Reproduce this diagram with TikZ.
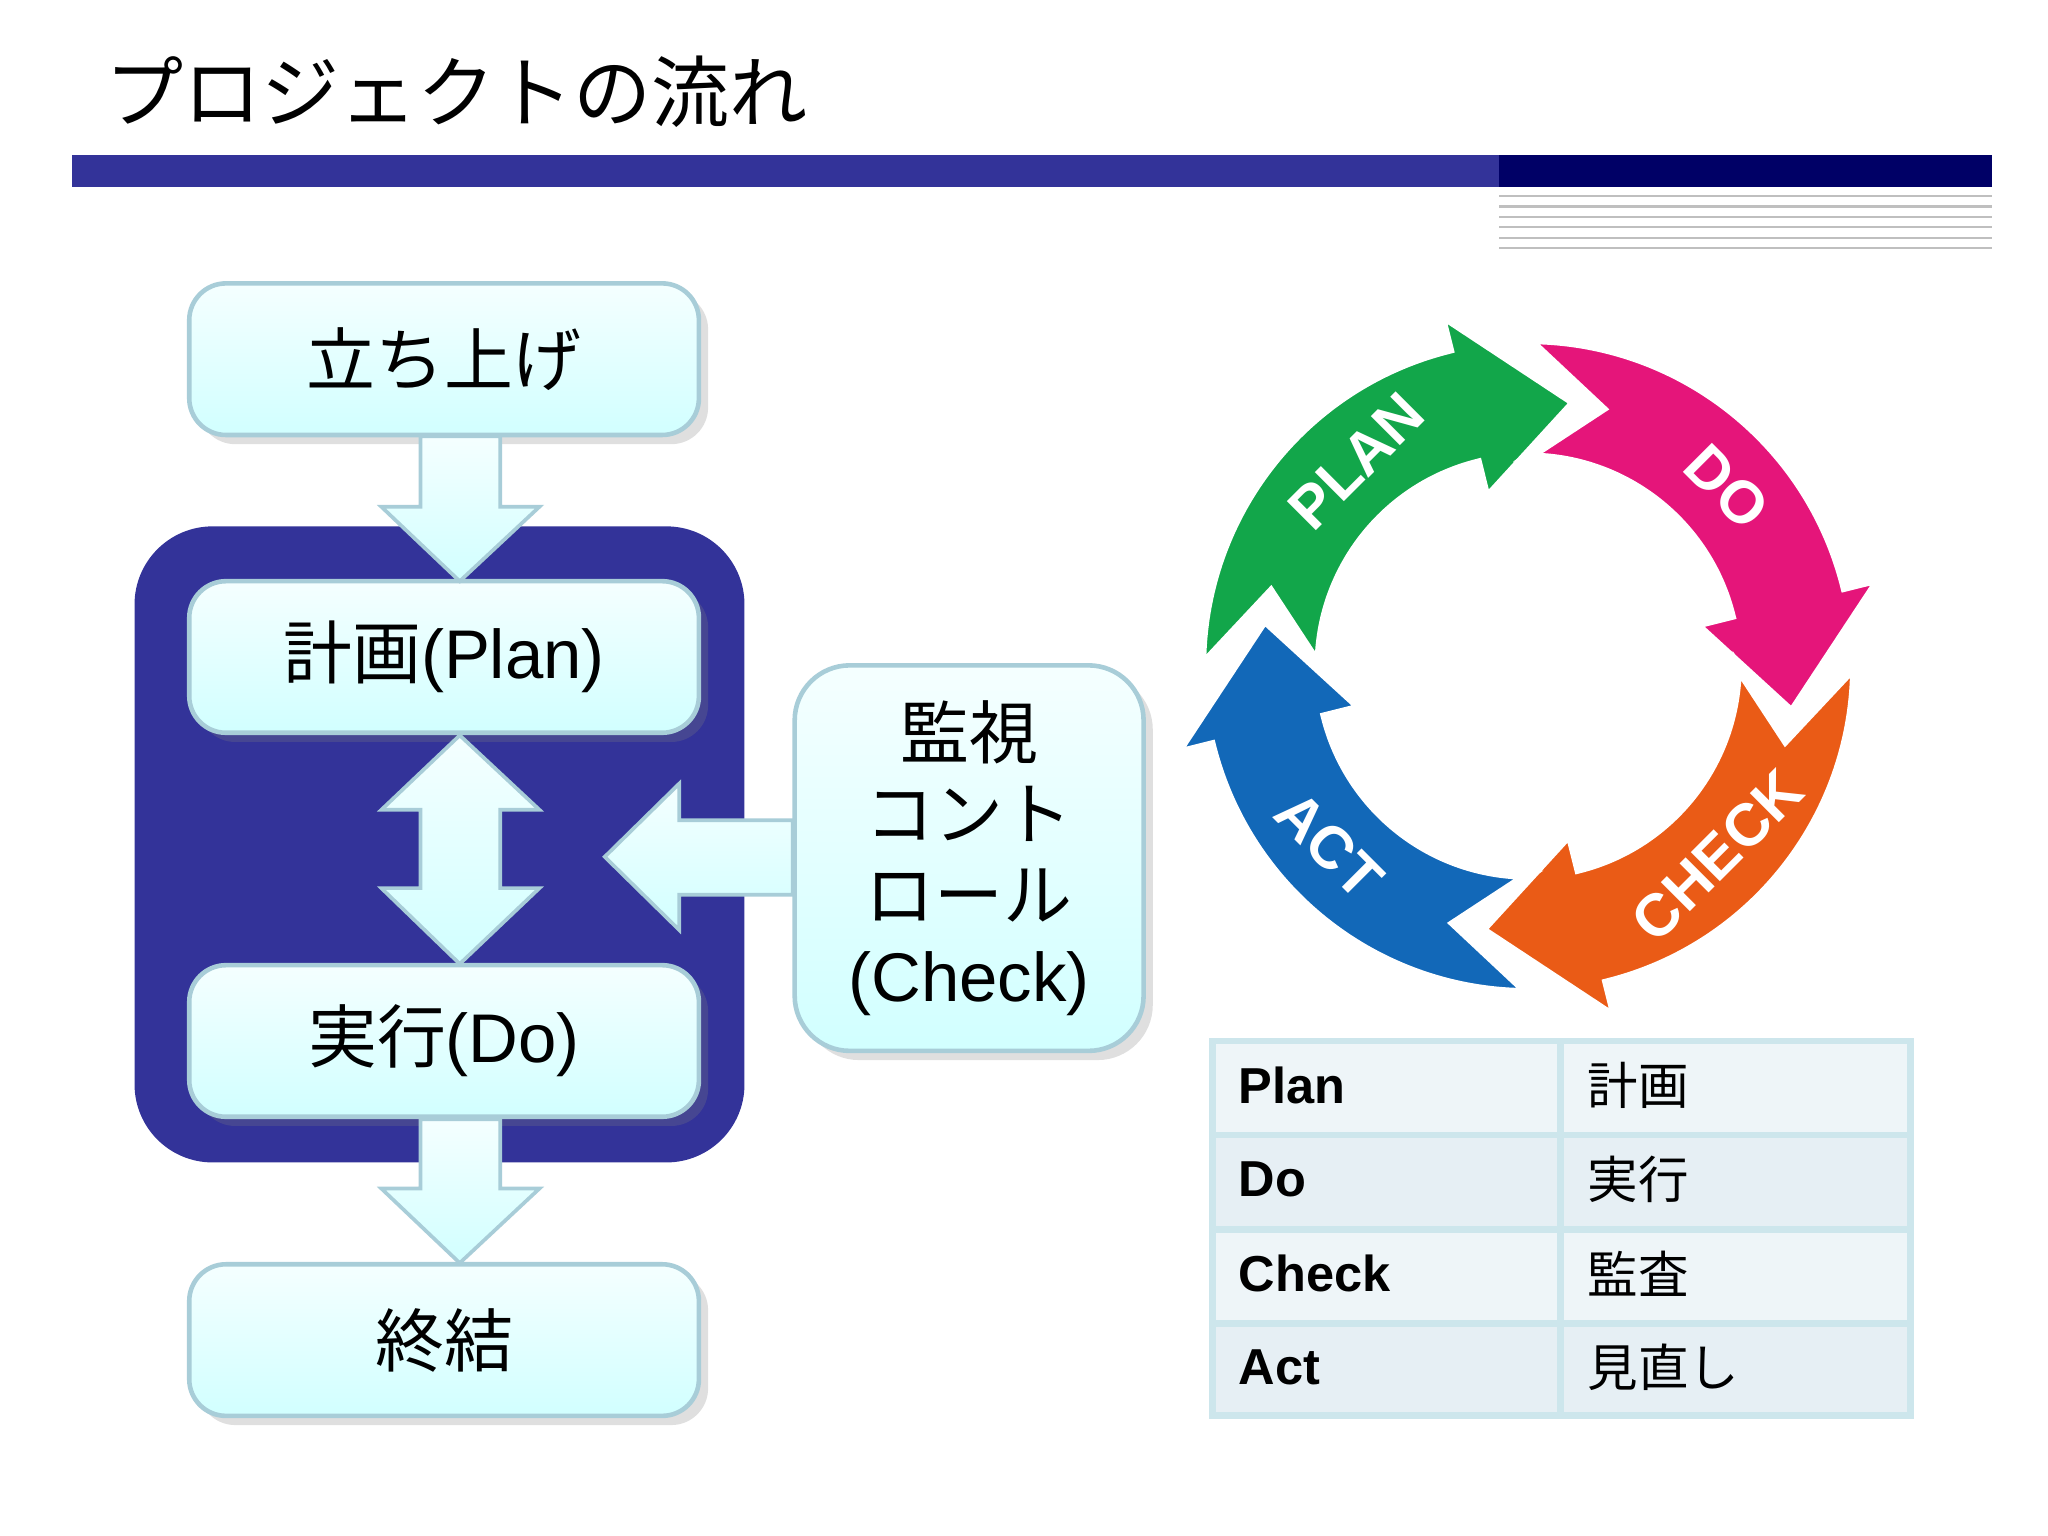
\documentclass[tikz,border=0pt]{standalone}
\usepackage{fontspec}
\setmainfont{Liberation Sans}
\newfontfamily\jp{Noto Sans CJK JP}
\usetikzlibrary{shadows}
\definecolor{bar}{HTML}{333399}
\definecolor{navy}{HTML}{000066}
\definecolor{cyc1}{HTML}{12A64A}
\definecolor{cyc2}{HTML}{E5157A}
\definecolor{cyc3}{HTML}{EA5B16}
\definecolor{cyc4}{HTML}{1268B8}
\definecolor{bedge}{HTML}{A8CDD8}
\definecolor{tline}{HTML}{CDE6EC}
\begin{document}
\begin{tikzpicture}[x=0.01cm,y=-0.01cm,
  box/.style={draw=bedge,line width=1pt,rounded corners=8pt,top color=cyan!4,bottom color=cyan!18,
    drop shadow={shadow xshift=2pt,shadow yshift=-2pt,opacity=0.25},align=center,
    font=\fontsize{15}{17.6}\selectfont},
  barrow/.style={draw=bedge,line width=0.8pt,top color=cyan!4,bottom color=cyan!18},
  cyc/.style={draw=white,line width=2pt},
  clab/.style={text=white,font=\fontsize{13}{13}\selectfont\bfseries},
  tcell/.style={font=\fontsize{11}{13}\selectfont\bfseries,anchor=west}]
\useasboundingbox (0,0) rectangle (1568,1176);
\fill[white] (0,0) rectangle (1568,1176);
% title
\node[anchor=west,font=\jp\fontsize{17}{20}\selectfont] (title) at (68,70) {プロジェクトの流れ};
\fill[bar] (55,119) rectangle (1148,143);
\fill[navy] (1148,119) rectangle (1525,143);
\foreach \y in {150,158,166,174,182,190} \draw[gray!50,line width=0.5pt] (1148,\y) -- (1525,\y);
% dark block
\fill[bar,rounded corners=17pt] (103,403) rectangle (570,890);
% boxes
\node[box,minimum width=3.9cm,minimum height=1.16cm] (start) at (340,275) {\jp 立ち上げ};
\node[box,minimum width=3.9cm,minimum height=1.16cm] (plan) at (340,503) {{\jp 計画}(Plan)};
\node[box,minimum width=3.9cm,minimum height=1.16cm] (do) at (340,797) {{\jp 実行}(Do)};
\node[box,minimum width=3.9cm,minimum height=1.16cm] (end) at (340,1026) {\jp 終結};
\node[box,minimum width=2.67cm,minimum height=2.95cm,rounded corners=12pt] (check) at (742,657)
  {{\jp 監視}\\{\jp コント}\\{\jp ロール}\\(Check)};
% block arrows
\path[barrow] (322,334) -- (383,334) -- (383,388) -- (413,388) -- (352,445) -- (292,388) -- (322,388) -- cycle;
\path[barrow] (352,563) -- (413,620) -- (383,620) -- (383,680) -- (413,680) -- (352,738) -- (292,680) -- (322,680) -- (322,620) -- (292,620) -- cycle;
\path[barrow] (607,628) -- (520,628) -- (520,600) -- (463,656) -- (520,712) -- (520,685) -- (607,685) -- cycle;
\path[barrow] (322,857) -- (383,857) -- (383,910) -- (413,910) -- (352,967) -- (292,910) -- (322,910) -- cycle;
% cycle
\begin{scope}[shift={(1170,510)},yscale=-1]
\def\Ro{250}\def\Ri{160}\def\Rm{205}
\foreach \T/\c in {180/cyc1,90/cyc2,0/cyc3,-90/cyc4}{
  \path[cyc,fill=\c] (\T:\Ro) arc[start angle=\T,end angle=\T-76,radius=\Ro]
   -- (\T-76:\Ro+28) -- (\T-100:\Rm) -- (\T-76:\Ri-28) -- (\T-76:\Ri)
   arc[start angle=\T-76,end angle=\T,radius=\Ri] -- (\T-16:\Rm) -- cycle;
}
\node[clab,rotate=45] (lp) at (130:\Rm) {PLAN};
\node[clab,rotate=-45] (ld) at (42:\Rm) {DO};
\node[clab,rotate=45] (lc) at (-45:\Rm) {CHECK};
\node[clab,rotate=-45] (la) at (-138:\Rm) {ACT};
\end{scope}
% table
\foreach \i/\c in {0/EEF5F8,1/E6EFF4,2/EEF5F8,3/E6EFF4}{
  \definecolor{rowc}{HTML}{\c}
  \fill[rowc] (928,797+72*\i) rectangle (1463,869+72*\i);}
\draw[tline,line width=1.5pt] (928,797) rectangle (1463,1084);
\foreach \y in {869,941,1013} \draw[tline,line width=1.5pt] (928,\y) -- (1463,\y);
\draw[tline,line width=1.5pt] (1195,797) -- (1195,1084);
\node[tcell] (t1) at (936,831) {Plan};
\node[tcell] (t2) at (936,903) {Do};
\node[tcell] (t3) at (936,975) {Check};
\node[tcell] (t4) at (936,1047) {Act};
\node[tcell,font=\jp\fontsize{11}{13}\selectfont] (u1) at (1203,831) {計画};
\node[tcell,font=\jp\fontsize{11}{13}\selectfont] (u2) at (1203,903) {実行};
\node[tcell,font=\jp\fontsize{11}{13}\selectfont] (u3) at (1203,975) {監査};
\node[tcell,font=\jp\fontsize{11}{13}\selectfont] (u4) at (1203,1047) {見直し};
\end{tikzpicture}
\end{document}
